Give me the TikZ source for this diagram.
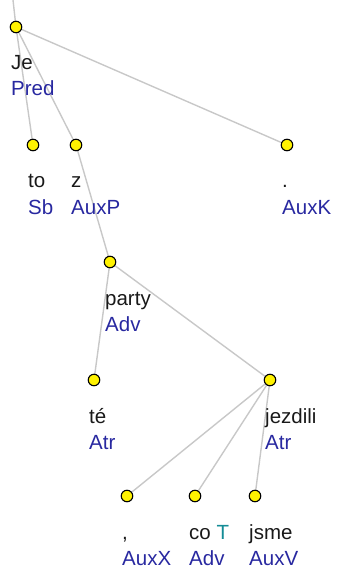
\documentclass[tikz,border=0pt]{standalone}
\usepackage{fontspec}
\setmainfont{Liberation Sans}
\definecolor{edgegray}{RGB}{200,200,200}
\definecolor{funcblue}{RGB}{40,40,160}
\definecolor{wordblack}{RGB}{25,25,25}
\definecolor{tteal}{RGB}{20,140,150}
\begin{document}
\begin{tikzpicture}[x=1pt,y=-1pt,
  tnode/.style={circle,draw=black,line width=1.1pt,fill=yellow,minimum size=11.5pt,inner sep=0pt},
  edge/.style={draw=edgegray,line width=1.4pt},
  wordlbl/.style={anchor=base west,inner sep=0pt,text=wordblack,font=\fontsize{20.5}{24}\selectfont},
  funclbl/.style={anchor=base west,inner sep=0pt,text=funcblue,font=\fontsize{20.5}{24}\selectfont}]
\useasboundingbox (0,0) rectangle (337,569);
% coordinates of tree nodes
\coordinate (top) at (13,0);
\coordinate (pJe) at (16,27);
\coordinate (pto) at (33,145);
\coordinate (pz) at (76,145);
\coordinate (pdot) at (287,145);
\coordinate (pparty) at (110,262);
\coordinate (pte) at (94,380);
\coordinate (pjezdili) at (270,380);
\coordinate (pcomma) at (127,496);
\coordinate (pco) at (195,496);
\coordinate (pjsme) at (255,496);
% edges
\draw[edge] (top) -- (pJe);
\draw[edge] (pJe) -- (pto);
\draw[edge] (pJe) -- (pz);
\draw[edge] (pJe) -- (pdot);
\draw[edge] (pz) -- (pparty);
\draw[edge] (pparty) -- (pte);
\draw[edge] (pparty) -- (pjezdili);
\draw[edge] (pjezdili) -- (pcomma);
\draw[edge] (pjezdili) -- (pco);
\draw[edge] (pjezdili) -- (pjsme);
% nodes
\node[tnode] (Je) at (pJe) {};
\node[tnode] (to) at (pto) {};
\node[tnode] (z) at (pz) {};
\node[tnode] (dot) at (pdot) {};
\node[tnode] (party) at (pparty) {};
\node[tnode] (te) at (pte) {};
\node[tnode] (jezdili) at (pjezdili) {};
\node[tnode] (comma) at (pcomma) {};
\node[tnode] (co) at (pco) {};
\node[tnode] (jsme) at (pjsme) {};
% labels
\node[wordlbl] (wJe) at (11,70) {Je};
\node[funclbl] (fJe) at (11,96) {Pred};
\node[wordlbl] (wto) at (28,188) {to};
\node[funclbl] (fto) at (28,214) {Sb};
\node[wordlbl] (wz) at (71,188) {z};
\node[funclbl] (fz) at (71,214) {AuxP};
\node[wordlbl] (wdot) at (282,188) {.};
\node[funclbl] (fdot) at (282,214) {AuxK};
\node[wordlbl] (wparty) at (105,305) {party};
\node[funclbl] (fparty) at (105,331) {Adv};
\node[wordlbl] (wte) at (89,423) {té};
\node[funclbl] (fte) at (89,449) {Atr};
\node[wordlbl] (wjezdili) at (265,423) {jezdili};
\node[funclbl] (fjezdili) at (265,449) {Atr};
\node[wordlbl] (wcomma) at (122,539) {,};
\node[funclbl] (fcomma) at (122,565) {AuxX};
\node[wordlbl] (wco) at (189,539) {co \textcolor{tteal}{T}};
\node[funclbl] (fco) at (189,565) {Adv};
\node[wordlbl] (wjsme) at (249,539) {jsme};
\node[funclbl] (fjsme) at (249,565) {AuxV};
\end{tikzpicture}
\end{document}
